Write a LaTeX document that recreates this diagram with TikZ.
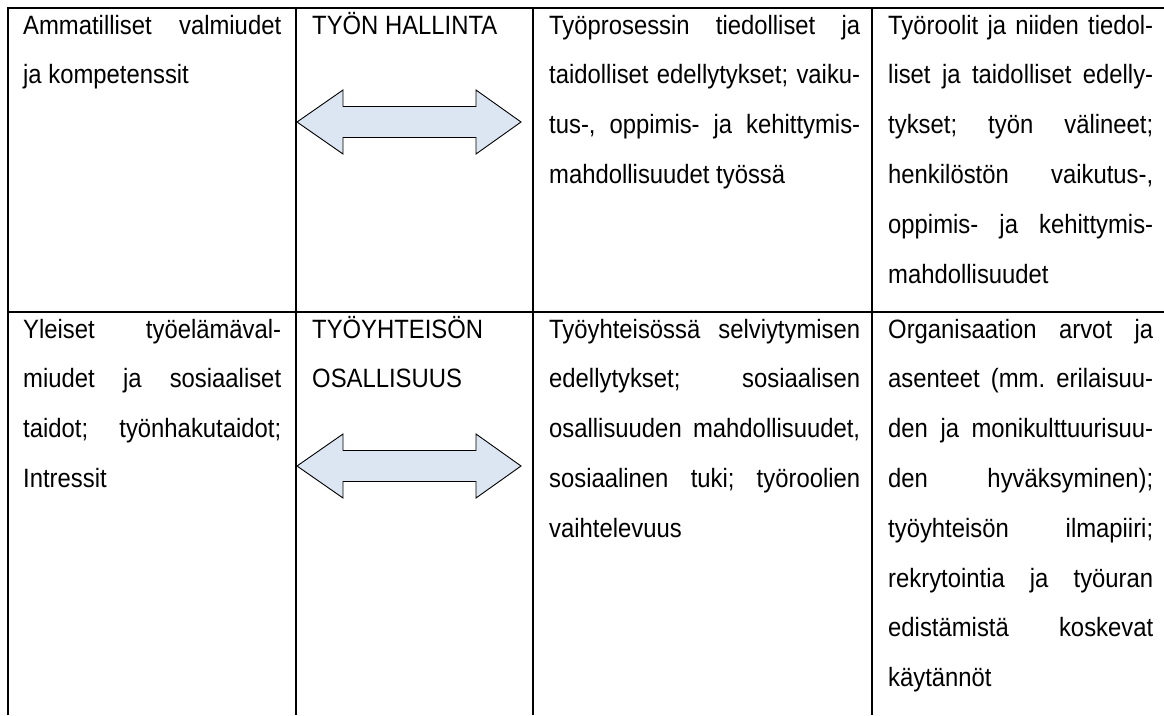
\documentclass[tikz,border=0pt]{standalone}
\usepackage{fontspec}
\setmainfont{Liberation Sans}[FakeStretch=0.9]
\definecolor{arrowfill}{RGB}{220,230,242}
\newcommand\celltext{\fontsize{26.5}{49.8}\selectfont\frenchspacing\tolerance=10000\hyphenpenalty=10000\exhyphenpenalty=10000\hbadness=10000}
\begin{document}
\begin{tikzpicture}[x=1pt,y=-1pt,
  cell/.style={anchor=base west, inner sep=0pt, text width=#1, align=justify, font=\celltext},
  tline/.style={line width=1.9pt, draw=black, line join=miter},
  dblarrow/.style={draw=black, line width=0.9pt, fill=arrowfill, line join=miter},
  dblarr/.pic={\draw[dblarrow] (297,0) -- (343,-32) -- (343,-15.5) -- (476,-15.5) -- (476,-32) -- (521,0) -- (476,32) -- (476,15.5) -- (343,15.5) -- (343,32) -- cycle;}]
\fill[white] (0,0) rectangle (1164,715);
\useasboundingbox (0,0) rectangle (1164,715);
% table rules
\draw[tline] (8,715) -- (8,8) -- (1170,8);
\draw[tline] (8,312) -- (1170,312);
\draw[tline] (296,8) -- (296,715);
\draw[tline] (533,8) -- (533,715);
\draw[tline] (872,8) -- (872,715);
% arrows
\pic at (0,122) {dblarr};
\pic at (0,466) {dblarr};
% row 1
\node[cell=258pt] (r1c1) at (23,34) {Ammatilliset valmiudet\linebreak ja kompetenssit};
\node[cell=210pt] (r1c2) at (312,34) {TYÖN HALLINTA};
\node[cell=311pt] (r1c3) at (549,34) {Työprosessin tiedolliset ja\linebreak taidolliset edellytykset; vaiku-\linebreak tus-, oppimis- ja kehittymis-\linebreak mahdollisuudet työssä};
\node[cell=265pt] (r1c4) at (888,34) {Työroolit ja niiden tiedol-\linebreak liset ja taidolliset edelly-\linebreak tykset; työn välineet;\linebreak henkilöstön vaikutus-,\linebreak oppimis- ja kehittymis-\linebreak mahdollisuudet};
% row 2
\node[cell=258pt] (r2c1) at (23,338) {Yleiset työelämäval-\linebreak miudet ja sosiaaliset\linebreak taidot; työnhakutaidot;\linebreak Intressit};
\node[cell=210pt, align=left] (r2c2) at (312,338) {TYÖYHTEISÖN\\OSALLISUUS};
\node[cell=311pt] (r2c3) at (549,338) {Työyhteisössä selviytymisen\linebreak edellytykset; sosiaalisen\linebreak osallisuuden mahdollisuudet,\linebreak sosiaalinen tuki; työroolien\linebreak vaihtelevuus};
\node[cell=265pt] (r2c4) at (888,338) {Organisaation arvot ja\linebreak asenteet (mm. erilaisuu-\linebreak den ja monikulttuurisuu-\linebreak den hyväksyminen);\linebreak työyhteisön ilmapiiri;\linebreak rekrytointia ja työuran\linebreak edistämistä koskevat\linebreak käytännöt};
\end{tikzpicture}
\end{document}
